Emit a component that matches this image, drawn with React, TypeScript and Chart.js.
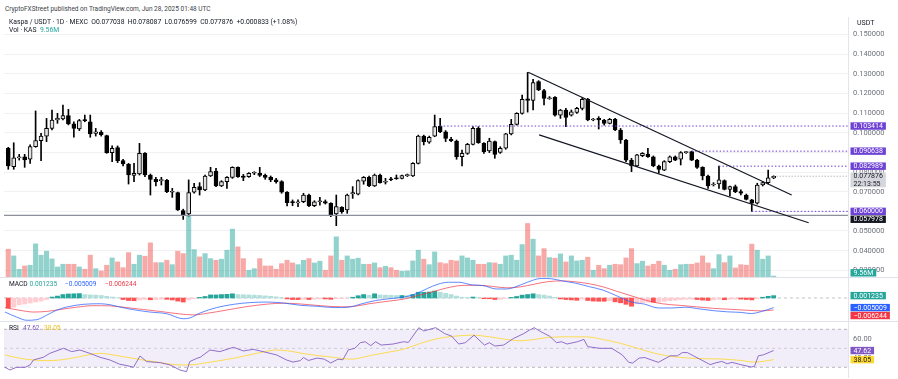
import React, { useEffect, useRef } from 'react';
import { Chart, registerables } from 'chart.js';
Chart.register(...registerables);

const FONT = 'Roboto, "Noto Sans", sans-serif';
Chart.defaults.font.family = FONT;

// ---- daily candles (index 0 = first visible day) ----
const candleOpen = [
  0.0921, 0.0827, 0.0872, 0.0878, 0.0865, 0.0929, 0.0960, 0.0983, 0.1022, 0.1065,
  0.1070, 0.1087, 0.1045, 0.1019, 0.1065, 0.1056, 0.0996, 0.1004, 0.0985, 0.0899,
  0.0924, 0.0858, 0.0839, 0.0783, 0.0790, 0.0895, 0.0785, 0.0763, 0.0756, 0.0758,
  0.0697, 0.0695, 0.0604, 0.0587, 0.0697, 0.0726, 0.0709, 0.0780, 0.0805, 0.0729,
  0.0751, 0.0773, 0.0824, 0.0780, 0.0777, 0.0794, 0.0794, 0.0783, 0.0773, 0.0760,
  0.0751, 0.0697, 0.0646, 0.0643, 0.0649, 0.0683, 0.0629, 0.0649, 0.0650, 0.0641,
  0.0587, 0.0620, 0.0607, 0.0689, 0.0688, 0.0754, 0.0773, 0.0729, 0.0785, 0.0748,
  0.0763, 0.0768, 0.0768, 0.0782, 0.0780, 0.0844, 0.0983, 0.0952, 0.0983, 0.103414,
  0.1005, 0.0966, 0.0958, 0.0878, 0.0895, 0.0941, 0.1022, 0.0946, 0.0907, 0.0955,
  0.0900, 0.0921, 0.0994, 0.1043, 0.1099, 0.1172, 0.1165, 0.1260, 0.1214, 0.1173,
  0.1180, 0.1090, 0.1116, 0.1090, 0.1104, 0.1124, 0.1170, 0.1065, 0.1073, 0.1065,
  0.1048, 0.1068, 0.1014, 0.0963, 0.0861, 0.0831, 0.0883, 0.0892, 0.0878, 0.0831,
  0.0810, 0.0853, 0.0878, 0.0865, 0.0899, 0.0904, 0.0861, 0.0824, 0.0780, 0.0734,
  0.0739, 0.0756, 0.0712, 0.0726, 0.0700, 0.0683, 0.0658, 0.0641, 0.0734, 0.0746,
  0.077038,
];
const candleHigh = [
  0.0926, 0.0949, 0.0890, 0.0890, 0.0938, 0.1111, 0.0997, 0.1073, 0.1116, 0.1099,
  0.1141, 0.1119, 0.1056, 0.1068, 0.1090, 0.1090, 0.1022, 0.1011, 0.0988, 0.0933,
  0.0933, 0.0865, 0.0844, 0.0844, 0.0946, 0.0899, 0.0790, 0.0773, 0.0773, 0.0763,
  0.0717, 0.0698, 0.0611, 0.0760, 0.0743, 0.0746, 0.0785, 0.0824, 0.0819, 0.0756,
  0.0777, 0.0827, 0.0827, 0.0788, 0.0797, 0.0802, 0.0824, 0.0790, 0.0780, 0.0768,
  0.0756, 0.0700, 0.0658, 0.0658, 0.0692, 0.0688, 0.0654, 0.0671, 0.0658, 0.0644,
  0.0683, 0.0624, 0.0688, 0.0726, 0.0760, 0.0777, 0.0780, 0.0790, 0.0790, 0.0768,
  0.0773, 0.0785, 0.0785, 0.0790, 0.0848, 0.0988, 0.0988, 0.0983, 0.1090, 0.1073,
  0.1011, 0.0977, 0.0963, 0.0912, 0.0946, 0.1031, 0.1031, 0.0950, 0.0972, 0.0958,
  0.0929, 0.0997, 0.1068, 0.1102, 0.1192, 0.1307, 0.1272, 0.1265, 0.1221, 0.1184,
  0.1184, 0.1119, 0.1124, 0.1116, 0.1129, 0.1180, 0.1175, 0.1073, 0.1082, 0.1068,
  0.1073, 0.1073, 0.1022, 0.0966, 0.0870, 0.0890, 0.0899, 0.0921, 0.0882, 0.0836,
  0.0858, 0.0882, 0.0882, 0.0904, 0.0905, 0.090638, 0.0865, 0.0827, 0.0785, 0.0746,
  0.082989, 0.0760, 0.0729, 0.0734, 0.0709, 0.0688, 0.0661, 0.0743, 0.0751, 0.0810,
  0.078087,
];
const candleLow = [
  0.0814, 0.0814, 0.0861, 0.0824, 0.0844, 0.0926, 0.0858, 0.0955, 0.1014, 0.1048,
  0.1065, 0.1040, 0.0977, 0.1011, 0.1056, 0.0977, 0.0983, 0.0983, 0.0895, 0.0853,
  0.0848, 0.0831, 0.0739, 0.0751, 0.0785, 0.0777, 0.0683, 0.0729, 0.0734, 0.0695,
  0.0671, 0.0604, 0.0559, 0.0576, 0.0692, 0.0683, 0.0705, 0.0777, 0.0726, 0.0726,
  0.0717, 0.0768, 0.0773, 0.0756, 0.0773, 0.0787, 0.0777, 0.0763, 0.0751, 0.0743,
  0.0692, 0.0627, 0.0629, 0.0624, 0.0644, 0.0624, 0.0624, 0.0632, 0.0637, 0.0573,
  0.0527, 0.0590, 0.0590, 0.0666, 0.0683, 0.0738, 0.0726, 0.0726, 0.0743, 0.0739,
  0.0756, 0.0763, 0.0765, 0.0777, 0.0777, 0.0841, 0.0938, 0.0946, 0.0980, 0.1000,
  0.0955, 0.0955, 0.0865, 0.0831, 0.0890, 0.0938, 0.0946, 0.0895, 0.0899, 0.0870,
  0.0895, 0.0916, 0.0989, 0.1039, 0.1095, 0.1105, 0.1116, 0.1214, 0.1141, 0.1170,
  0.1085, 0.1073, 0.1031, 0.1085, 0.1099, 0.1116, 0.1061, 0.1061, 0.1019, 0.1039,
  0.1045, 0.1011, 0.0946, 0.0853, 0.0802, 0.0827, 0.0878, 0.0875, 0.0827, 0.0794,
  0.0807, 0.0848, 0.0858, 0.0836, 0.0895, 0.0858, 0.0819, 0.0760, 0.0717, 0.0729,
  0.0717, 0.0709, 0.0678, 0.0695, 0.0683, 0.0658, 0.0600, 0.0637, 0.0729, 0.0740,
  0.076599,
];
const candleClose = [
  0.0831, 0.0873, 0.0877, 0.0862, 0.0929, 0.0960, 0.0983, 0.1022, 0.1065, 0.1073,
  0.1087, 0.1045, 0.1022, 0.1062, 0.1062, 0.0994, 0.1005, 0.0990, 0.0899, 0.0921,
  0.0858, 0.0841, 0.0785, 0.0793, 0.0895, 0.0785, 0.0763, 0.0751, 0.0760, 0.0700,
  0.0700, 0.0607, 0.0581, 0.0695, 0.0722, 0.0709, 0.0780, 0.0802, 0.0729, 0.0751,
  0.0773, 0.0824, 0.0777, 0.0773, 0.0794, 0.0795, 0.0783, 0.0773, 0.0760, 0.0751,
  0.0697, 0.0644, 0.0644, 0.0646, 0.0683, 0.0629, 0.0649, 0.0651, 0.0641, 0.0581,
  0.0624, 0.0598, 0.0683, 0.0695, 0.0756, 0.0773, 0.0729, 0.0785, 0.0746, 0.0751,
  0.0761, 0.0766, 0.0782, 0.0783, 0.0844, 0.0983, 0.0955, 0.0977, 0.1031, 0.1005,
  0.0971, 0.0960, 0.0878, 0.0895, 0.0941, 0.1022, 0.0950, 0.0904, 0.0958, 0.0890,
  0.0921, 0.0994, 0.1043, 0.1099, 0.1170, 0.1165, 0.1255, 0.1218, 0.1175, 0.1175,
  0.1090, 0.1116, 0.1078, 0.1107, 0.1124, 0.1170, 0.1065, 0.1068, 0.1065, 0.1048,
  0.1068, 0.1014, 0.0963, 0.0861, 0.0831, 0.0887, 0.0895, 0.0878, 0.0831, 0.0814,
  0.0853, 0.0878, 0.0861, 0.0899, 0.0904, 0.0861, 0.0824, 0.0780, 0.0729, 0.0738,
  0.0760, 0.0712, 0.0726, 0.0700, 0.0692, 0.0661, 0.0641, 0.0734, 0.0746, 0.0770,
  0.077876,
];
// volume in millions of KAS
const volumeM = [
  277, 210, 77, 110, 117, 330, 217, 257, 180, 100,
  127, 127, 127, 100, 77, 217, 83, 60, 117, 190,
  150, 93, 243, 127, 217, 207, 340, 143, 143, 167,
  123, 257, 233, 617, 273, 200, 233, 183, 167, 177,
  267, 477, 300, 183, 67, 83, 183, 110, 110, 77,
  133, 167, 140, 123, 167, 183, 140, 157, 67, 210,
  400, 167, 210, 177, 187, 127, 127, 140, 93, 107,
  93, 67, 57, 60, 160, 267, 177, 123, 250, 143,
  133, 167, 160, 210, 190, 167, 127, 127, 143, 140,
  127, 210, 217, 167, 323, 533, 377, 210, 283, 193,
  187, 230, 150, 210, 160, 167, 197, 67, 117, 83,
  117, 127, 123, 190, 283, 133, 157, 110, 127, 157,
  117, 67, 77, 123, 127, 127, 140, 210, 140, 83,
  223, 143, 210, 90, 123, 117, 327, 267, 177, 210,
  9.56,
];
// MACD histogram per day
const macdHist = [
  -0.0052, -0.0048, -0.0036, -0.0031, -0.0026, -0.0021, -0.0016, -0.0008, 0.0005, 0.0010,
  0.0018, 0.0021, 0.0022, 0.0023, 0.0018, 0.0016, 0.0015, 0.0013, 0.0009, 0.0005,
  0.0001, -0.0008, -0.0013, -0.0014, -0.0010, -0.0008, -0.0009, -0.0008, -0.0006, -0.0007,
  -0.0010, -0.0016, -0.0021, -0.0010, -0.0004, 0.0003, 0.0008, 0.0016, 0.0016, 0.0018,
  0.0019, 0.0022, 0.0018, 0.0017, 0.0016, 0.0015, 0.0013, 0.0011, 0.0009, 0.0006,
  0.0002, -0.0005, -0.0008, -0.0008, -0.0007, -0.0008, -0.0006, -0.0005, -0.0005, -0.0007,
  -0.0004, -0.0003, -0.0001, 0.0004, 0.0012, 0.0018, 0.0014, 0.0022, 0.0016, 0.0015,
  0.0014, 0.0013, 0.0013, 0.0012, 0.0018, 0.0030, 0.0030, 0.0031, 0.0036, 0.0030,
  0.0024, 0.0018, 0.0010, 0.0004, 0.0002, 0.0005, 0.0002, -0.0004, -0.0004, -0.0008,
  -0.0007, -0.0002, 0.0003, 0.0008, 0.0015, 0.0018, 0.0022, 0.0018, 0.0015, 0.0010,
  0.0003, -0.0005, -0.0008, -0.0010, -0.0012, -0.0006, -0.0013, -0.0016, -0.0017, -0.0017,
  -0.0014, -0.0020, -0.0025, -0.0033, -0.0043, -0.0030, -0.0025, -0.0022, -0.0022, -0.0021,
  -0.0017, -0.0014, -0.0012, -0.0009, -0.0007, -0.0006, -0.0008, -0.0011, -0.0013, -0.0010,
  -0.0007, -0.0009, -0.0007, -0.0006, -0.0006, -0.0008, -0.0010, -0.0003, 0.0004, 0.0009,
  0.001235,
];
// MACD line / signal line, read at day positions
const macdLineX = [-0.6, 1.5, 3.4, 5.2, 7.0, 8.8, 10.7, 13.7, 16.8, 18.6, 20.4, 22.9, 25.9, 29.0, 32.0, 33.2, 35.1, 38.1, 41.2, 44.2, 47.3, 50.3, 53.4, 56.5, 59.7, 62.2, 64.7, 67.2, 69.7, 72.3, 74.2, 76.7, 78.6, 80.5, 82.4, 84.9, 86.8, 89.3, 91.2, 93.7, 96.2, 97.5, 99.4, 101.2, 103.8, 106.3, 108.8, 111.4, 113.9, 116.4, 118.9, 121.4, 123.9, 126.5, 129.0, 131.5, 134.0, 135.9, 137.8, 140];
const macdLineY = [-0.0073, -0.0099, -0.0116, -0.0113, -0.0090, -0.0064, -0.0047, -0.0033, -0.0030, -0.0035, -0.0047, -0.0061, -0.0073, -0.0082, -0.0108, -0.0104, -0.0078, -0.0050, -0.0033, -0.0024, -0.0021, -0.0026, -0.0038, -0.0043, -0.0050, -0.0048, -0.0030, -0.0013, -0.0004, 0.0005, 0.0018, 0.0050, 0.0072, 0.0082, 0.0082, 0.0068, 0.0065, 0.0047, 0.0047, 0.0068, 0.0095, 0.0102, 0.0100, 0.0090, 0.0077, 0.0059, 0.0041, 0.0010, -0.0020, -0.0032, -0.0052, -0.0052, -0.0048, -0.0057, -0.0066, -0.0072, -0.0075, -0.0081, -0.0070, -0.005009];
const signalLineX = [-0.6, 2.1, 4.6, 7.0, 9.5, 12.5, 15.5, 18.6, 21.7, 24.7, 27.8, 31.4, 33.9, 36.3, 39.9, 43.6, 47.3, 50.3, 53.4, 57.1, 60.9, 63.4, 66.0, 69.7, 72.3, 74.8, 77.3, 81.1, 83.6, 86.1, 88.6, 91.2, 93.7, 96.2, 98.7, 101.2, 103.8, 106.3, 108.8, 111.4, 113.9, 116.4, 119.6, 122.7, 125.9, 129.0, 132.1, 135.3, 137.8, 140];
const signalLineY = [-0.0050, -0.0064, -0.0073, -0.0070, -0.0060, -0.0048, -0.0040, -0.0041, -0.0050, -0.0060, -0.0070, -0.0083, -0.0088, -0.0080, -0.0063, -0.0045, -0.0032, -0.0027, -0.0031, -0.0040, -0.0046, -0.0043, -0.0030, -0.0016, -0.0006, 0.0012, 0.0030, 0.0058, 0.0066, 0.0066, 0.0060, 0.0053, 0.0058, 0.0072, 0.0085, 0.0089, 0.0084, 0.0074, 0.0058, 0.0034, 0.0012, -0.0010, -0.0030, -0.0038, -0.0046, -0.0054, -0.0059, -0.0064, -0.0067, -0.006244];
// RSI and its moving average
const rsiX = [-0.6, 0.3, 1.5, 3.1, 4.0, 4.6, 6.4, 7.6, 10.1, 11.6, 13.1, 14.9, 16.8, 18.6, 20.4, 21.7, 22.9, 24.1, 25.3, 27.8, 29.6, 31.4, 32.6, 33.2, 34.5, 35.1, 36.9, 38.7, 41.2, 43.0, 44.8, 46.6, 49.1, 50.9, 52.1, 53.4, 54.0, 54.9, 56.5, 57.8, 59.0, 60.3, 61.2, 62.2, 63.4, 64.4, 65.3, 66.3, 67.2, 68.2, 70.4, 72.3, 73.2, 75.1, 76.0, 78.2, 79.8, 81.1, 82.4, 83.6, 85.2, 87.1, 88.0, 89.0, 90.6, 92.4, 94.3, 95.3, 96.2, 97.5, 99.0, 100.3, 101.2, 102.2, 104.1, 105.3, 106.0, 108.2, 110.4, 112.3, 113.5, 114.2, 115.4, 116.4, 118.9, 121.1, 122.4, 123.3, 124.2, 125.8, 128.4, 129.3, 130.5, 131.5, 132.4, 134.0, 135.9, 136.5, 137.2, 138.1, 140];
const rsiY = [30, 27.2, 30, 30, 32.5, 37.7, 40.5, 44.7, 50, 46.5, 48.2, 44.7, 40.5, 37.7, 33.2, 31.8, 30, 41.9, 36, 34.9, 32.5, 27.2, 25.4, 36, 39.5, 40.5, 48.2, 46.5, 51.1, 47.2, 48.9, 46.5, 43, 37.7, 35.5, 37, 40.3, 37.2, 39.7, 38.6, 34.5, 38.6, 37.9, 48.3, 50, 55.9, 56.9, 52.8, 56.9, 53.4, 54.5, 56.9, 56.2, 71.7, 68.3, 71.7, 65.5, 62.8, 54.5, 55.9, 63.8, 53.4, 55.9, 52.4, 53.4, 60.3, 65.5, 69, 71.7, 67.2, 62.8, 55.9, 56.9, 54.5, 56.9, 59.3, 51.7, 50, 50, 43.1, 35.2, 34.5, 39.7, 40.3, 35.2, 42.1, 42.1, 45.5, 45.5, 40.7, 32.8, 34.5, 36.2, 33.8, 35.2, 32.8, 30.3, 31, 42.1, 43.1, 47.62];
const rsiMaX = [-0.6, 2.1, 4.6, 7.0, 9.5, 12.5, 15.5, 16.8, 19.2, 21.7, 24.7, 27.8, 31.4, 33.2, 36.3, 41.2, 46.0, 49.1, 52.1, 53.4, 56.5, 59.7, 62.8, 66.0, 69.1, 72.3, 75.4, 78.6, 81.7, 84.9, 88.0, 91.2, 93.7, 96.2, 98.7, 102.5, 105.6, 108.8, 112.0, 115.1, 118.2, 121.4, 124.6, 127.7, 130.9, 134.0, 136.6, 140];
const rsiMaY = [43, 39.5, 37.7, 37, 37.7, 40.5, 44, 44.7, 43, 40.5, 37.7, 34.9, 32.5, 32.5, 34.9, 39.5, 45.4, 48.2, 46.5, 45.0, 42.4, 40.3, 38.6, 42.1, 45.5, 49, 55.2, 60.3, 62.8, 63.8, 62.1, 59.3, 57.9, 59.3, 61.4, 62.1, 62.1, 59.3, 55.2, 50, 44.8, 41.4, 39.7, 39, 38.6, 37.2, 35.5, 38.05];

// tick labels
const priceTicks = [0.15, 0.14, 0.13, 0.12, 0.11, 0.10, 0.09, 0.08, 0.07, 0.06, 0.05, 0.04, 0.03];
const rsiTicks = [60, 40];
const rsiBands = [70, 50, 30];

// drawn levels / trend lines (price, starting day)
const levelValues = [0.103414, 0.090638, 0.082989, 0.06];
const levelStart = [79, 125, 130, 136];
const supportValue = 0.057978;
const lastPrice = 0.077876;
const upperTrendX = [95.1, 143.3];
const upperTrendY = [0.1308, 0.0683];
const lowerTrendX = [97.1, 146.4];
const lowerTrendY = [0.0989, 0.0542];

// axis ranges
const X_MIN = -0.78;
const X_MAX = 153.6;
const PRICE_MIN = 0.02659;
const PRICE_MAX = 0.158906;
const VOL_MAX = 2590;
const MACD_MIN = -0.0125;
const MACD_MAX = 0.010417;
const RSI_MIN = 18.74;
const RSI_MAX = 77.68;

const PURPLE = '#6e42d4';
const UP_FILL = '#e2e2e2';
const VOL_UP = 'rgba(38,166,154,0.5)';
const VOL_DN = 'rgba(239,83,80,0.5)';
const AXIS_W = 50;

type Tag = { scale: string; value: number; lines: string[]; bg: string; fg: string };

const fmtSigned = (v: number, d: number) => (v < 0 ? '\u2212' : '') + Math.abs(v).toFixed(d);

function tagPlugin(tags: Tag[]) {
  return {
    id: 'axisTags',
    afterDraw(chart: any) {
      const { ctx, chartArea } = chart;
      const LH = 7.4;
      ctx.save();
      ctx.font = `7px ${FONT}`;
      ctx.textBaseline = 'middle';
      const items = tags
        .map((t) => ({ t, y: chart.scales[t.scale].getPixelForValue(t.value) }))
        .sort((a, b) => a.y - b.y);
      let prevBottom = -1e9;
      for (const it of items) {
        const h = it.t.lines.length * LH;
        let top = it.y - LH / 2;
        if (top < prevBottom + 0.5) top = prevBottom + 0.5;
        if (top + h > chartArea.bottom - 0.5) top = chartArea.bottom - 0.5 - h;
        const w = Math.max(...it.t.lines.map((s) => ctx.measureText(s).width)) + 6;
        const x = chartArea.right + 2.5;
        ctx.fillStyle = it.t.bg;
        ctx.fillRect(x, top, w, h);
        ctx.fillStyle = it.t.fg;
        it.t.lines.forEach((s, k) => ctx.fillText(s, x + 3, top + LH * k + LH / 2 + 0.4));
        prevBottom = top + h;
      }
      ctx.restore();
    },
  };
}

const rightAxisFit = (s: any) => {
  s.width = AXIS_W;
  s.paddingTop = 0;
  s.paddingBottom = 0;
};

const xScale = { type: 'linear', min: X_MIN, max: X_MAX, offset: false, display: false };
const baseOpts = {
  responsive: false,
  animation: false,
  events: [],
  layout: { padding: { left: 4, right: 0, top: 0, bottom: 0 } },
  plugins: { legend: { display: false }, tooltip: { enabled: false } },
};

const idx = candleOpen.map((_, i) => i);
const isUp = (i: number) => candleClose[i] >= candleOpen[i];
const pts = (xs: number[], ys: number[]) => xs.map((x, k) => ({ x, y: ys[k] }));

function priceConfig(): any {
  const datasets: any[] = [
    { type: 'line', yAxisID: 'y', data: pts(upperTrendX, upperTrendY), borderColor: '#131722', borderWidth: 1.2, pointRadius: 0, order: 0 },
    { type: 'line', yAxisID: 'y', data: pts(lowerTrendX, lowerTrendY), borderColor: '#131722', borderWidth: 1.2, pointRadius: 0, order: 0 },
    ...levelValues.map((v, k) => ({
      type: 'line', yAxisID: 'y', data: [{ x: levelStart[k], y: v }, { x: X_MAX, y: v }],
      borderColor: PURPLE, borderWidth: 1, borderDash: [1.5, 2], pointRadius: 0, order: 1,
    })),
    { type: 'line', yAxisID: 'y', data: [{ x: X_MIN, y: supportValue }, { x: X_MAX, y: supportValue }], borderColor: '#8d909a', borderWidth: 1.3, pointRadius: 0, order: 1 },
    { type: 'line', yAxisID: 'y', data: [{ x: idx.length - 1, y: lastPrice }, { x: X_MAX, y: lastPrice }], borderColor: '#9598a1', borderWidth: 1, borderDash: [1, 2], pointRadius: 0, order: 1 },
    {
      type: 'bar', yAxisID: 'y', data: idx.map((i) => ({ x: i, y: [candleOpen[i], candleClose[i]] })),
      backgroundColor: idx.map((i) => (isUp(i) ? UP_FILL : '#000')), borderColor: '#000', borderWidth: 1,
      borderSkipped: false, barThickness: 4, minBarLength: 1, grouped: false, order: 2,
    },
    {
      type: 'bar', yAxisID: 'y', data: idx.map((i) => ({ x: i, y: [candleLow[i], candleHigh[i]] })),
      backgroundColor: '#000', barThickness: 1, grouped: false, order: 3,
    },
    {
      type: 'bar', yAxisID: 'yVol', data: idx.map((i) => ({ x: i, y: volumeM[i] })),
      backgroundColor: idx.map((i) => (isUp(i) ? VOL_UP : VOL_DN)), barThickness: 4.4, grouped: false, order: 4,
    },
  ];
  const tags: Tag[] = [
    ...levelValues.map((v) => ({ scale: 'y', value: v, lines: [v.toFixed(6)], bg: PURPLE, fg: '#fff' })),
    { scale: 'y', value: lastPrice, lines: [lastPrice.toFixed(6), '22:13:55'], bg: '#d5d7dd', fg: '#131722' },
    { scale: 'y', value: supportValue, lines: [supportValue.toFixed(6)], bg: '#131722', fg: '#fff' },
    { scale: 'yVol', value: volumeM[volumeM.length - 1], lines: [volumeM[volumeM.length - 1].toFixed(2) + 'M'], bg: '#26a69a', fg: '#fff' },
  ];
  return {
    type: 'bar',
    data: { datasets },
    options: {
      ...baseOpts,
      scales: {
        x: xScale,
        y: {
          type: 'linear', position: 'right', min: PRICE_MIN, max: PRICE_MAX,
          afterBuildTicks: (s: any) => { s.ticks = priceTicks.map((value) => ({ value })); },
          afterFit: rightAxisFit,
          grid: { color: '#f0f1f4', drawTicks: false },
          border: { color: '#e3e5ea' },
          ticks: { padding: 5, color: '#6f727c', font: { size: 7.5, family: FONT }, callback: (v: any) => Number(v).toFixed(6) },
        },
        yVol: { type: 'linear', position: 'left', display: false, min: 0, max: VOL_MAX },
      },
    },
    plugins: [tagPlugin(tags)],
  };
}

function histColor(i: number) {
  const v = macdHist[i];
  const p = i > 0 ? macdHist[i - 1] : v;
  if (v >= 0) return v >= p ? '#26a69a' : '#b2dfdb';
  return v <= p ? '#ff5252' : '#ffcdd2';
}

function macdConfig(): any {
  const datasets: any[] = [
    { type: 'line', data: pts(macdLineX, macdLineY), borderColor: 'rgba(41,98,255,0.75)', borderWidth: 1, pointRadius: 0, cubicInterpolationMode: 'monotone', order: 0 },
    { type: 'line', data: pts(signalLineX, signalLineY), borderColor: 'rgba(242,54,69,0.7)', borderWidth: 1, pointRadius: 0, cubicInterpolationMode: 'monotone', order: 0 },
    { type: 'line', data: [{ x: X_MIN, y: 0 }, { x: X_MAX, y: 0 }], borderColor: 'rgba(120,123,134,0.45)', borderWidth: 1, borderDash: [3, 3], pointRadius: 0, order: 2 },
    { type: 'bar', data: idx.map((i) => ({ x: i, y: macdHist[i] })), backgroundColor: idx.map(histColor), barThickness: 4.2, grouped: false, order: 1 },
  ];
  const last = idx.length - 1;
  const tags: Tag[] = [
    { scale: 'y', value: macdHist[last], lines: [fmtSigned(macdHist[last], 6)], bg: '#26a69a', fg: '#fff' },
    { scale: 'y', value: macdLineY[macdLineY.length - 1], lines: [fmtSigned(macdLineY[macdLineY.length - 1], 6)], bg: '#2962ff', fg: '#fff' },
    { scale: 'y', value: signalLineY[signalLineY.length - 1], lines: [fmtSigned(signalLineY[signalLineY.length - 1], 6)], bg: '#f23645', fg: '#fff' },
  ];
  return {
    type: 'bar',
    data: { datasets },
    options: {
      ...baseOpts,
      scales: {
        x: xScale,
        y: {
          type: 'linear', position: 'right', min: MACD_MIN, max: MACD_MAX,
          afterFit: rightAxisFit,
          grid: { display: false },
          border: { color: '#e3e5ea' },
          ticks: { display: false },
        },
      },
    },
    plugins: [tagPlugin(tags)],
  };
}

function rsiConfig(): any {
  const datasets: any[] = [
    ...rsiBands.map((b, k) => ({
      type: 'line', data: [{ x: X_MIN, y: b }, { x: X_MAX, y: b }],
      borderColor: k === 1 ? 'rgba(120,123,134,0.3)' : 'rgba(120,123,134,0.5)', borderWidth: 1, borderDash: [3, 3], pointRadius: 0,
      fill: k === 0 ? 2 : false, backgroundColor: 'rgba(126,87,194,0.1)', order: 3,
    })),
    { type: 'line', data: pts(rsiMaX, rsiMaY), borderColor: 'rgba(253,216,53,0.85)', borderWidth: 1, pointRadius: 0, cubicInterpolationMode: 'monotone', fill: false, order: 1 },
    { type: 'line', data: pts(rsiX, rsiY), borderColor: 'rgba(126,87,194,0.85)', borderWidth: 1, pointRadius: 0, tension: 0, fill: false, order: 0 },
  ];
  const tags: Tag[] = [
    { scale: 'y', value: rsiY[rsiY.length - 1], lines: [rsiY[rsiY.length - 1].toFixed(2)], bg: '#7e57c2', fg: '#fff' },
    { scale: 'y', value: rsiMaY[rsiMaY.length - 1], lines: [rsiMaY[rsiMaY.length - 1].toFixed(2)], bg: '#fdd835', fg: '#131722' },
  ];
  return {
    type: 'line',
    data: { datasets },
    options: {
      ...baseOpts,
      scales: {
        x: xScale,
        y: {
          type: 'linear', position: 'right', min: RSI_MIN, max: RSI_MAX,
          afterBuildTicks: (s: any) => { s.ticks = rsiTicks.map((value) => ({ value })); },
          afterFit: rightAxisFit,
          grid: { display: false, drawTicks: false },
          border: { color: '#e3e5ea' },
          ticks: { padding: 5, color: '#6f727c', font: { size: 7.5, family: FONT }, callback: (v: any) => Number(v).toFixed(2) },
        },
      },
    },
    plugins: [tagPlugin(tags)],
  };
}

const txt = (left: number, top: number, size: number, color: string, extra: any = {}) => ({
  position: 'absolute' as const, left, top, fontSize: size, lineHeight: `${size + 1}px`, color, whiteSpace: 'nowrap' as const, ...extra,
});

export default function App() {
  const priceRef = useRef<HTMLCanvasElement>(null);
  const macdRef = useRef<HTMLCanvasElement>(null);
  const rsiRef = useRef<HTMLCanvasElement>(null);

  useEffect(() => {
    document.body.style.margin = '0';
    const charts = [
      new Chart(priceRef.current as HTMLCanvasElement, priceConfig()),
      new Chart(macdRef.current as HTMLCanvasElement, macdConfig()),
      new Chart(rsiRef.current as HTMLCanvasElement, rsiConfig()),
    ];
    return () => charts.forEach((c) => c.destroy());
  }, []);

  const dark = '#131722';
  return (
    <div style={{ position: 'relative', width: 898, height: 379, background: '#fff', overflow: 'hidden', fontFamily: FONT }}>
      <canvas ref={priceRef} width={898} height={260} style={{ position: 'absolute', left: 0, top: 17, width: 898, height: 260 }} />
      <canvas ref={macdRef} width={898} height={44} style={{ position: 'absolute', left: 0, top: 278, width: 898, height: 44 }} />
      <canvas ref={rsiRef} width={898} height={56} style={{ position: 'absolute', left: 0, top: 322, width: 898, height: 56 }} />
      <div style={{ position: 'absolute', left: 0, top: 277, width: 898, height: 1, background: '#e0e3eb' }} />
      <div style={{ position: 'absolute', left: 0, top: 321, width: 898, height: 1, background: '#e0e3eb' }} />

      <div style={txt(5, 6, 6.5, '#3b3e47')}>CryptoFXStreet published on TradingView.com, Jun 28, 2025 01:48 UTC</div>
      <div style={txt(9, 18.5, 6.8, dark)}>
        Kaspa / USDT · 1D · MEXC&nbsp;&nbsp;O0.077038&nbsp;&nbsp;H0.078087&nbsp;&nbsp;L0.076599&nbsp;&nbsp;C0.077876&nbsp;&nbsp;+0.000833 (+1.08%)
      </div>
      <div style={txt(9, 26.5, 6.8, dark)}>
        Vol · KAS&nbsp;&nbsp;<span style={{ color: '#26a69a' }}>9.56M</span>
      </div>
      <div style={txt(857, 18.5, 7, dark)}>USDT</div>

      <div style={txt(9, 281, 6.6, dark)}>MACD</div>
      <div style={txt(29.5, 281, 6.6, '#26a69a')}>0.001235</div>
      <div style={txt(65, 281, 6.6, '#2962ff')}>{'\u2212'}0.005009</div>
      <div style={txt(105, 281, 6.6, '#f23645')}>{'\u2212'}0.006244</div>

      <div style={txt(9, 324.5, 6.6, dark)}>RSI</div>
      <div style={txt(23, 324.5, 6.6, '#7e57c2')}>47.62</div>
      <div style={txt(44, 324.5, 6.6, '#e8c21c')}>38.05</div>
    </div>
  );
}
